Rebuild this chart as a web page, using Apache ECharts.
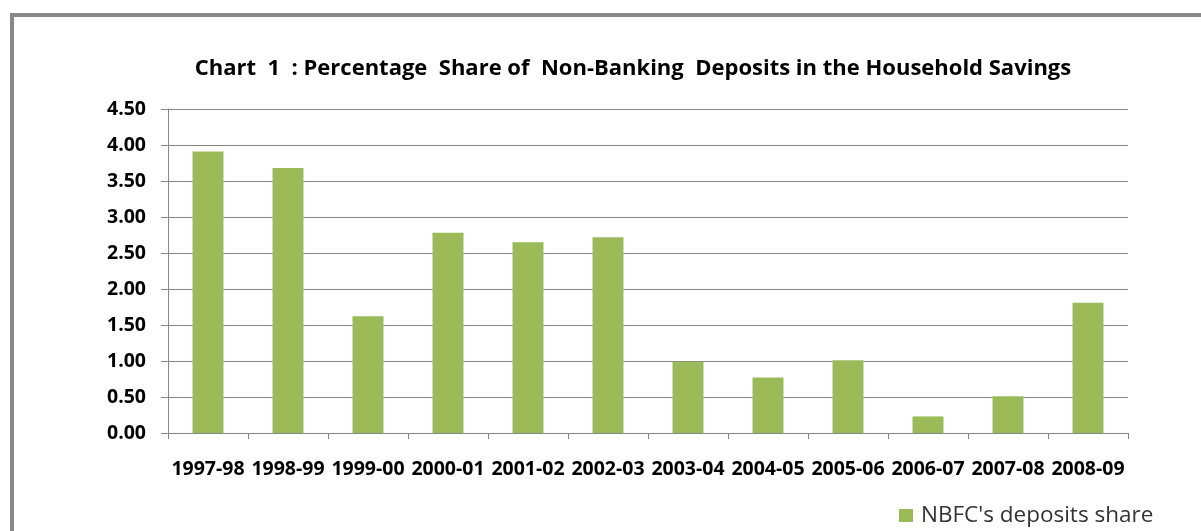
<!DOCTYPE html>
<html>
<head>
<meta charset="utf-8">
<script src="https://cdn.jsdelivr.net/npm/echarts@6/dist/echarts.min.js"></script>
<style>
  html, body { margin: 0; padding: 0; background: #fff; }
  #chart { width: 1201px; height: 531px; }
</style>
</head>
<body>
<div id="chart"></div>
<script>
  // 数据
  var years = ['1997-98', '1998-99', '1999-00', '2000-01', '2001-02', '2002-03',
    '2003-04', '2004-05', '2005-06', '2006-07', '2007-08', '2008-09'];
  var depositShare = [3.91, 3.68, 1.62, 2.78, 2.65, 2.72, 0.99, 0.77, 1.01, 0.23, 0.51, 1.81];
  var seriesName = "NBFC's deposits share";
  var titleText = 'Chart  1  : Percentage  Share of  Non-Banking  Deposits in the Household Savings';

  var chart = echarts.init(document.getElementById('chart'));
  var option = {
    animation: false,
    color: ['#9bbb59'],
    title: {
      text: titleText,
      left: 628,
      textAlign: 'center',
      top: 53,
      textStyle: {
        fontFamily: 'Open Sans',
        fontWeight: 'bold',
        fontSize: 22,
        color: '#000'
      }
    },
    // 外框
    graphic: [{
      type: 'rect',
      shape: { x: 12, y: 15, width: 1400, height: 700 },
      style: { fill: 'none', stroke: '#898989', lineWidth: 4 },
      z: 100
    }],
    grid: {
      left: 168,
      right: 73,
      top: 109,
      bottom: 98
    },
    legend: {
      data: [seriesName],
      left: 894,
      top: 499,
      icon: 'rect',
      itemWidth: 14,
      itemHeight: 13,
      textStyle: {
        fontFamily: 'Open Sans',
        fontSize: 22.5,
        color: '#333',
        padding: [0, 0, 0, 3]
      }
    },
    xAxis: {
      type: 'category',
      data: years,
      axisLine: { lineStyle: { color: '#868686', width: 1 } },
      axisTick: { show: true, length: 6, alignWithLabel: false, lineStyle: { color: '#868686' } },
      axisLabel: {
        interval: 0,
        margin: 26,
        fontFamily: 'Open Sans',
        fontWeight: 'bold',
        fontSize: 19.5,
        color: '#000'
      }
    },
    yAxis: {
      type: 'value',
      min: 0,
      max: 4.5,
      interval: 0.5,
      axisLine: { show: true, lineStyle: { color: '#868686', width: 1 } },
      axisTick: { show: true, length: 7, lineStyle: { color: '#868686' } },
      splitLine: { lineStyle: { color: '#868686', width: 1 } },
      axisLabel: {
        margin: 22,
        fontFamily: 'Open Sans',
        fontWeight: 'bold',
        fontSize: 19.5,
        color: '#000',
        formatter: function (v) { return v.toFixed(2); }
      }
    },
    series: [{
      name: seriesName,
      type: 'bar',
      barWidth: 31,
      data: depositShare
    }]
  };
  chart.setOption(option);
</script>
</body>
</html>
